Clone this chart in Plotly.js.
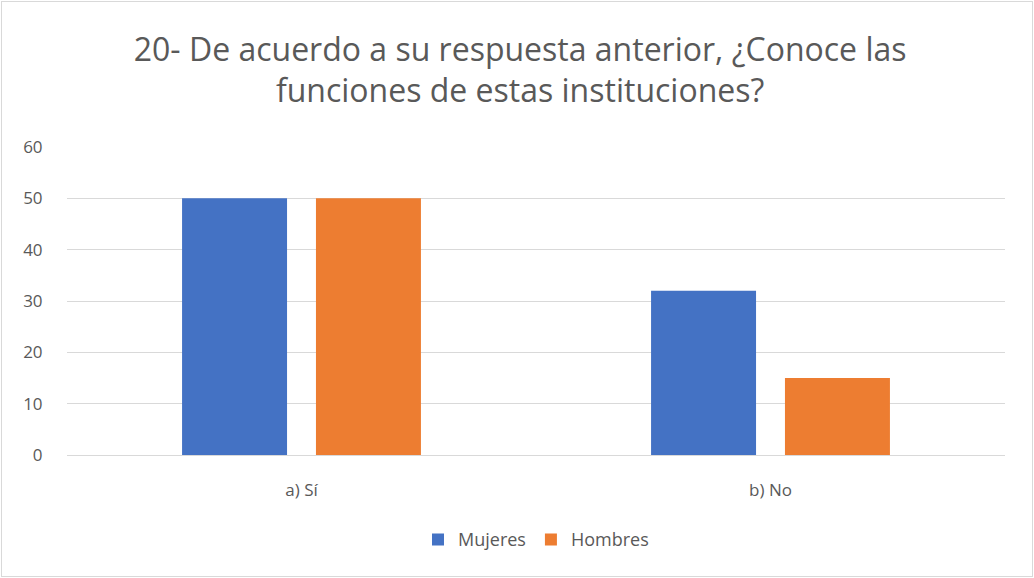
<!DOCTYPE html>
<html>
<head>
<meta charset="utf-8">
<script src="https://cdn.plot.ly/plotly-3.0.1.min.js"></script>
<style>
  html, body { margin: 0; padding: 0; background: #fff; }
  #chart { width: 1034px; height: 578px; }
  #frame { position: absolute; left: 1px; top: 1px; width: 1030px; height: 574px; border: 1px solid #d9d9d9; pointer-events: none; }
</style>
</head>
<body>
<div id="chart"></div>
<div id="frame"></div>
<script>
const categories = ["a) Sí", "b) No"];
const mujeres = [50, 32];
const hombres = [50, 15];
const seriesNames = ["Mujeres", "Hombres"];
const yTicks = [0, 10, 20, 30, 40, 50, 60];
const titleText = "20- De acuerdo a su respuesta anterior, ¿Conoce las<br>funciones de estas instituciones?";

const font = "Open Sans, Noto Sans, sans-serif";
const data = [
  { type: "bar", name: seriesNames[0], x: categories, y: mujeres, marker: { color: "#4472c4" }, hoverinfo: "none" },
  { type: "bar", name: seriesNames[1], x: categories, y: hombres, marker: { color: "#ed7d31" }, hoverinfo: "none" }
];
const layout = {
  width: 1034, height: 578,
  margin: { l: 67, r: 29, t: 147, b: 123 },
  paper_bgcolor: "#fff", plot_bgcolor: "#fff",
  font: { family: font, color: "#595959", size: 15 },
  title: { text: titleText, x: 0.503, xanchor: "center", y: 0.895, yanchor: "middle", yref: "container",
           font: { family: font, size: 32, color: "#595959" } },
  barmode: "group", bargap: 0.429, bargroupgap: 0.216,
  xaxis: { tickfont: { size: 17, color: "#595959" }, showgrid: false, showline: true, linecolor: "#d9d9d9", linewidth: 1,
           ticks: "outside", ticklen: 20, tickcolor: "rgba(0,0,0,0)", automargin: false },
  yaxis: { range: [0, 60], tickvals: yTicks, ticktext: yTicks.map(String), showgrid: true, gridcolor: "#d9d9d9", gridwidth: 1,
           zeroline: false, showline: false, tickfont: { size: 17, color: "#595959" }, ticks: "outside", ticklen: 20, tickcolor: "rgba(0,0,0,0)", automargin: false },
  showlegend: true,
  legend: { orientation: "h", x: 0.5, xanchor: "center", y: -0.275, yanchor: "middle", font: { size: 18, color: "#595959" }, itemwidth: 30, traceorder: "normal" }
};
Plotly.newPlot("chart", data, layout, { staticPlot: true, displayModeBar: false });
</script>
</body>
</html>
